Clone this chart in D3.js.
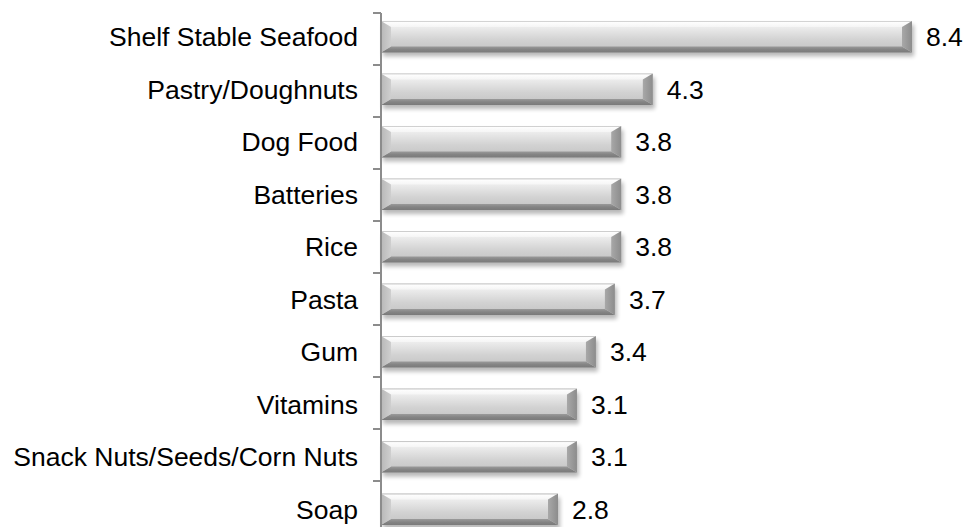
<!DOCTYPE html>
<html>
<head>
<meta charset="utf-8">
<script src="https://cdn.jsdelivr.net/npm/d3@7"></script>
<style>
  html, body { margin: 0; padding: 0; background: #fff; }
  svg { display: block; }
  text { font-family: "Liberation Sans", Arial, sans-serif; fill: #000; }
</style>
</head>
<body>
<svg id="chart" width="966" height="527"></svg>
<script>
const categories = ["Shelf Stable Seafood", "Pastry/Doughnuts", "Dog Food", "Batteries", "Rice", "Pasta", "Gum", "Vitamins", "Snack Nuts/Seeds/Corn Nuts", "Soap"];
const values = [8.4, 4.3, 3.8, 3.8, 3.8, 3.7, 3.4, 3.1, 3.1, 2.8];
const valueLabels = ["8.4", "4.3", "3.8", "3.8", "3.8", "3.7", "3.4", "3.1", "3.1", "2.8"];

const svg = d3.select("#chart");
const W = 966, H = 527;
const x0 = 381;

const x = d3.scaleLinear().domain([0, 8.4]).range([x0, 912]);
const y = d3.scaleBand().domain(categories).range([13, 533]).paddingInner(0.4).paddingOuter(0.15).align(0.5);
const step = y.step();

const defs = svg.append("defs");
const gBody = defs.append("linearGradient").attr("id", "body").attr("x1", 0).attr("y1", 0).attr("x2", 0).attr("y2", 1);
[[0, "#f9f9f9"], [0.2, "#ececec"], [0.6, "#d2d2d2"], [1, "#c2c2c2"]].forEach(s => gBody.append("stop").attr("offset", s[0]).attr("stop-color", s[1]));
const gTop = defs.append("linearGradient").attr("id", "topb").attr("x1", 0).attr("y1", 0).attr("x2", 0).attr("y2", 1);
[[0, "#b5b5b5"], [0.25, "#fdfdfd"], [1, "#f5f5f5"]].forEach(s => gTop.append("stop").attr("offset", s[0]).attr("stop-color", s[1]));
const gBot = defs.append("linearGradient").attr("id", "botb").attr("x1", 0).attr("y1", 0).attr("x2", 0).attr("y2", 1);
[[0, "#9a9a9a"], [0.5, "#848484"], [1, "#7a7a7a"]].forEach(s => gBot.append("stop").attr("offset", s[0]).attr("stop-color", s[1]));
const gLeft = defs.append("linearGradient").attr("id", "leftb").attr("x1", 0).attr("y1", 0).attr("x2", 1).attr("y2", 0);
[[0, "#b8b8b8"], [1, "#cfcfcf"]].forEach(s => gLeft.append("stop").attr("offset", s[0]).attr("stop-color", s[1]));
const gRight = defs.append("linearGradient").attr("id", "rightb").attr("x1", 0).attr("y1", 0).attr("x2", 1).attr("y2", 0);
[[0, "#a8a8a8"], [1, "#8c8c8c"]].forEach(s => gRight.append("stop").attr("offset", s[0]).attr("stop-color", s[1]));
const blur = defs.append("filter").attr("id", "shadow").attr("x", "-10%").attr("y", "-50%").attr("width", "120%").attr("height", "200%");
blur.append("feGaussianBlur").attr("stdDeviation", 2.2);

const bars = svg.append("g").selectAll("g.bar").data(categories).join("g").attr("class", "bar");

bars.each(function(c, i) {
  const g = d3.select(this);
  const xs = x(0), xe = x(values[i]);
  const top = y(c), h = y.bandwidth(), bot = top + h;
  const bx = 10, bt = 6, bb = 6;
  // shadow
  g.append("rect").attr("x", xs + 2).attr("y", top + 4).attr("width", xe - xs).attr("height", h)
    .attr("fill", "#000").attr("opacity", 0.28).attr("filter", "url(#shadow)");
  // body
  g.append("rect").attr("x", xs).attr("y", top).attr("width", xe - xs).attr("height", h).attr("fill", "url(#body)");
  // top bevel
  g.append("path").attr("d", `M${xs},${top}L${xe},${top}L${xe - bx},${top + bt}L${xs + bx},${top + bt}Z`).attr("fill", "url(#topb)");
  // bottom bevel
  g.append("path").attr("d", `M${xs},${bot}L${xe},${bot}L${xe - bx},${bot - bb}L${xs + bx},${bot - bb}Z`).attr("fill", "url(#botb)");
  // left bevel
  g.append("path").attr("d", `M${xs},${top}L${xs + bx},${top + bt}L${xs + bx},${bot - bb}L${xs},${bot}Z`).attr("fill", "url(#leftb)");
  // right bevel
  g.append("path").attr("d", `M${xe},${top}L${xe - bx},${top + bt}L${xe - bx},${bot - bb}L${xe},${bot}Z`).attr("fill", "url(#rightb)");
  // value label
  g.append("text").attr("x", xe + 14).attr("y", top + h / 2).attr("dy", "0.36em")
    .attr("font-size", "26.5px").text(valueLabels[i]);
});

// axis line + ticks at band boundaries
const axis = svg.append("g");
axis.append("line").attr("x1", x0).attr("x2", x0).attr("y1", y.range()[0]).attr("y2", y.range()[1])
  .attr("stroke", "#8c8c8c").attr("stroke-width", 2);
d3.range(categories.length + 1).forEach(i => {
  const yy = y.range()[0] + i * (y.range()[1] - y.range()[0]) / categories.length;
  axis.append("line").attr("x1", x0 - 8).attr("x2", x0).attr("y1", yy).attr("y2", yy)
    .attr("stroke", "#8c8c8c").attr("stroke-width", 2);
});

// category labels
svg.append("g").selectAll("text").data(categories).join("text")
  .attr("x", 358).attr("y", d => y(d) + y.bandwidth() / 2).attr("dy", "0.36em")
  .attr("text-anchor", "end").attr("font-size", "26.5px").text(d => d);
</script>
</body>
</html>
